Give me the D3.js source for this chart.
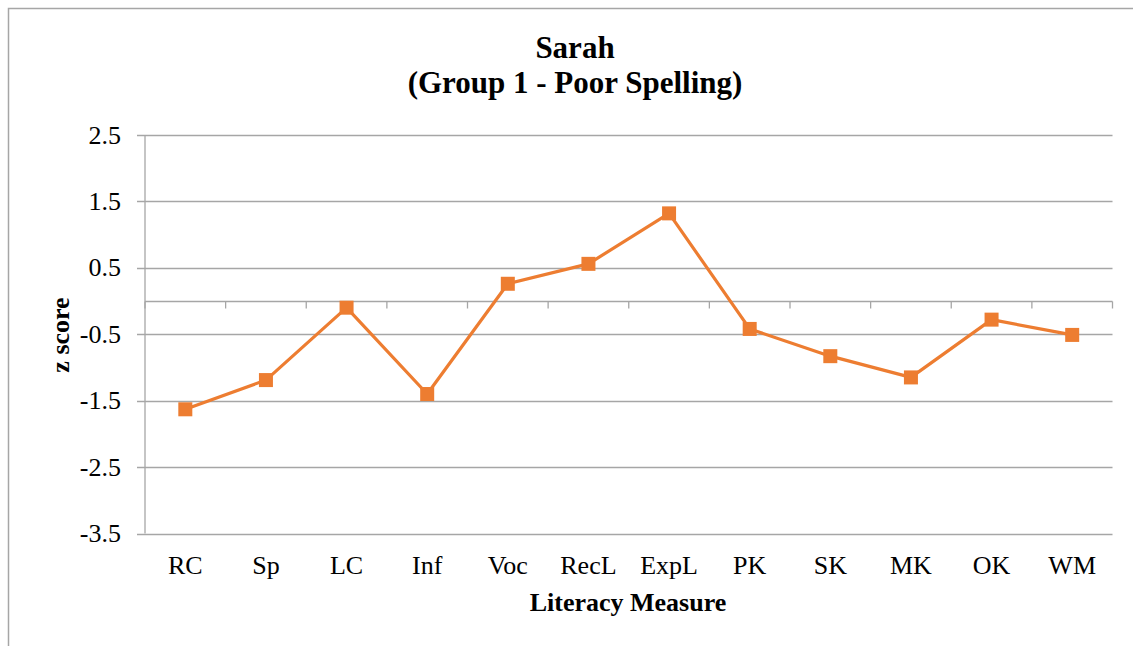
<!DOCTYPE html>
<html><head><meta charset="utf-8">
<script src="https://cdn.jsdelivr.net/npm/d3@7"></script>
<style>body{margin:0;background:#fff}svg{display:block}</style>
</head><body>
<svg id="chart" width="1133" height="646"></svg>
<script>
const categories = ["RC","Sp","LC","Inf","Voc","RecL","ExpL","PK","SK","MK","OK","WM"];
const zScores = [-1.63,-1.19,-0.10,-1.40,0.26,0.56,1.32,-0.42,-0.83,-1.15,-0.28,-0.51];
const yTicks = [2.5,1.5,0.5,-0.5,-1.5,-2.5,-3.5];
const titleLines = ["Sarah","(Group 1 - Poor Spelling)"];
const xTitle = "Literacy Measure";
const yTitle = "z score";

const FF = "'Liberation Serif',serif";
const svg = d3.select("#chart");
const L = 145, R = 1112.5, T = 135, B = 533.5;
const grid = "#a6a6a6";

// outer frame
svg.append("path").attr("d","M8.5,646 L8.5,8.5 L1133,8.5").attr("fill","none").attr("stroke",grid).attr("stroke-width",1.5);

const x = d3.scaleBand().domain(categories).range([L,R]);
const y = d3.scaleLinear().domain([-3.5,2.5]).range([B,T]);

// gridlines
svg.append("g").selectAll("line").data(yTicks).join("line")
  .attr("x1",L-8).attr("x2",R).attr("y1",d=>Math.round(y(d))+0.5).attr("y2",d=>Math.round(y(d))+0.5)
  .attr("stroke",grid).attr("stroke-width",1.3);
// y axis line
svg.append("line").attr("x1",L).attr("x2",L).attr("y1",T).attr("y2",B).attr("stroke",grid).attr("stroke-width",1.3);

// y labels
svg.append("g").selectAll("text").data(yTicks).join("text")
  .attr("x",121).attr("y",d=>y(d)).attr("dy","0.33em").attr("text-anchor","end")
  .attr("font-family",FF).attr("font-size",26).text(d=>d.toFixed(1));

// x axis at zero
const y0 = Math.round(y(0))+0.5;
svg.append("line").attr("x1",L).attr("x2",R).attr("y1",y0).attr("y2",y0).attr("stroke",grid).attr("stroke-width",1.3);
const bounds = categories.map(c=>x(c)).concat([R]);
svg.append("g").selectAll("line").data(bounds).join("line")
  .attr("x1",d=>d).attr("x2",d=>d).attr("y1",y0).attr("y2",y0+7).attr("stroke",grid).attr("stroke-width",1.3);

// x labels
svg.append("g").selectAll("text").data(categories).join("text")
  .attr("x",d=>x(d)+x.bandwidth()/2).attr("y",574).attr("text-anchor","middle")
  .attr("font-family",FF).attr("font-size",26).text(d=>d);

// line
const line = d3.line().x((d,i)=>x(categories[i])+x.bandwidth()/2).y(d=>y(d));
svg.append("path").datum(zScores).attr("d",line).attr("fill","none")
  .attr("stroke","#ED7D31").attr("stroke-width",3.2).attr("stroke-linejoin","round");
svg.append("g").selectAll("rect").data(zScores).join("rect")
  .attr("x",(d,i)=>x(categories[i])+x.bandwidth()/2-7).attr("y",d=>y(d)-7)
  .attr("width",14).attr("height",14).attr("fill","#ED7D31");

// titles
svg.append("text").attr("x",575).attr("y",58).attr("text-anchor","middle")
  .attr("font-family",FF).attr("font-size",31).attr("font-weight","bold").text(titleLines[0]);
svg.append("text").attr("x",575).attr("y",93).attr("text-anchor","middle")
  .attr("font-family",FF).attr("font-size",31).attr("font-weight","bold").text(titleLines[1]);
svg.append("text").attr("x",628).attr("y",611).attr("text-anchor","middle")
  .attr("font-family",FF).attr("font-size",26).attr("font-weight","bold").text(xTitle);
svg.append("text").attr("transform","translate(69,335) rotate(-90)").attr("text-anchor","middle")
  .attr("font-family",FF).attr("font-size",26).attr("font-weight","bold").text(yTitle);
</script>
</body></html>
